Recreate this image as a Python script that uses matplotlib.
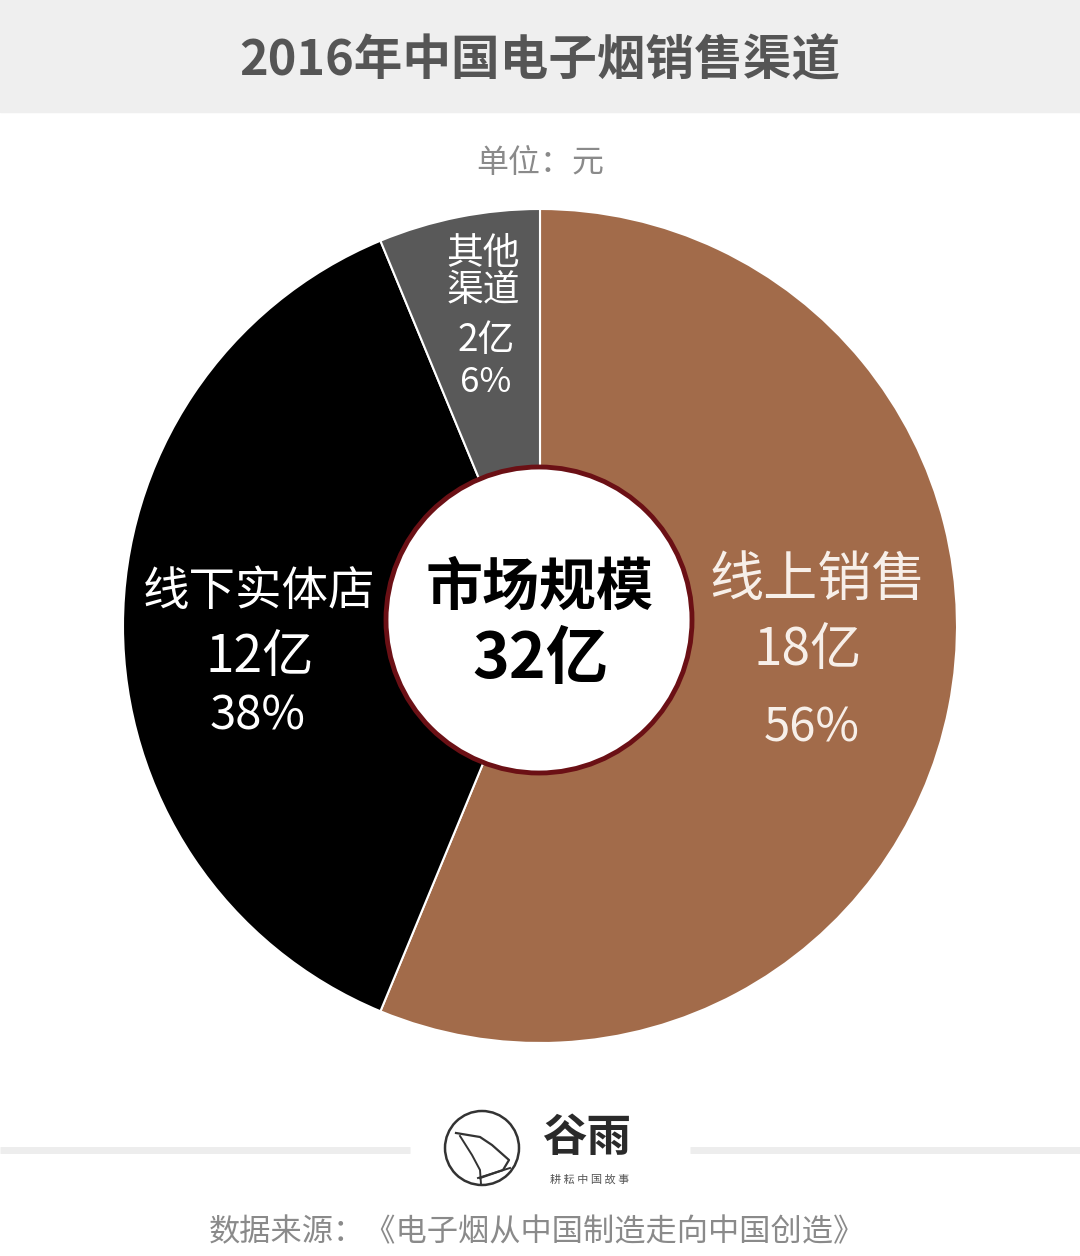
import matplotlib
matplotlib.use("Agg")
import matplotlib.pyplot as plt
from matplotlib.patches import Rectangle, Circle

plt.rcParams['font.family'] = ['Noto Sans CJK SC', 'DejaVu Sans']

title = "2016年中国电子烟销售渠道"
unit = "单位：元"
categories = ["线上销售", "线下实体店", "其他渠道"]
values = [18, 12, 2]          # 亿
percents = ["56%", "38%", "6%"]
colors = ["#A26B4A", "#000000", "#595959"]
total_label = "市场规模"
total_value = "32亿"
source = "数据来源：《电子烟从中国制造走向中国创造》"

W, H = 1080, 1256
fig = plt.figure(figsize=(W / 100, H / 100), dpi=100)
ax = fig.add_axes([0, 0, 1, 1])

def Y(y):
    return H - y

# pie
cx, cy, r = 540, Y(626), 417
ax.pie(values, colors=colors, startangle=90, counterclock=False,
       center=(cx, cy), radius=r, frame=True,
       wedgeprops=dict(edgecolor='white', linewidth=1.5))
ax.set_xlim(0, W)
ax.set_ylim(0, H)
ax.set_aspect('equal')
ax.axis('off')

# title bar
ax.add_patch(Rectangle((0, Y(112)), W, 112, color="#EFEFEF", zorder=0))
ax.text(540, Y(60), title, ha='center', va='center', fontsize=35,
        fontweight='bold', color='#555555')
ax.text(540, Y(163), unit, ha='center', va='center', fontsize=23, color='#8A8A8A')

# center circle
ax.add_patch(Circle((539, Y(620)), 153, facecolor='white', edgecolor='#6B1015',
                    linewidth=3.5, zorder=5))
ax.text(540, Y(588), total_label, ha='center', va='center', fontsize=41,
        fontweight='bold', color='black', zorder=6)
ax.text(540, Y(660), total_value, ha='center', va='center', fontsize=45,
        fontweight='bold', color='black', zorder=6)

# labels
lab_col = '#F7EFE9'
ax.text(818, Y(580), categories[0], ha='center', va='center', fontsize=39, color=lab_col)
ax.text(808, Y(650), f"{values[0]}亿", ha='center', va='center', fontsize=37, color=lab_col)
ax.text(812, Y(728), percents[0], ha='center', va='center', fontsize=34, color=lab_col)

ax.text(259, Y(592), categories[1], ha='center', va='center', fontsize=33.5, color='white')
ax.text(260, Y(657), f"{values[1]}亿", ha='center', va='center', fontsize=37, color='white')
ax.text(258, Y(716), percents[1], ha='center', va='center', fontsize=34, color='white')

ax.text(483, Y(272), categories[2][:2] + "\n" + categories[2][2:], ha='center', va='center',
        fontsize=26.5, color='white', linespacing=0.95)
ax.text(486, Y(340), f"{values[2]}亿", ha='center', va='center', fontsize=26.5, color='white')
ax.text(486, Y(383), percents[2], ha='center', va='center', fontsize=25, color='white')

# logo area
ax.plot([0, 410], [Y(1150), Y(1150)], color='#EDEDED', lw=5, solid_capstyle='butt')
ax.plot([690, W], [Y(1150), Y(1150)], color='#EDEDED', lw=5, solid_capstyle='butt')
ax.add_patch(Circle((482, Y(1148)), 37, facecolor='white', edgecolor='#333333', lw=1.8))
ax.plot([456, 480, 492, 509, 503, 480],
        [Y(1133), Y(1137), Y(1145), Y(1160), Y(1170), Y(1178)],
        color='#333333', lw=1.6)
ax.plot([460, 472, 480, 481], [Y(1136), Y(1155), Y(1170), Y(1184)], color='#333333', lw=1.4)
ax.plot([478, 510], [Y(1178), Y(1168)], color='#333333', lw=1.4)
ax.text(587, Y(1138), "谷雨", ha='center', va='center', fontsize=32,
        fontweight='bold', color='#2A2A2A')
ax.text(590, Y(1180), "耕 耘 中 国 故 事", ha='center', va='center', fontsize=8, color='#555555')

ax.text(537, Y(1232), source, ha='center', va='center', fontsize=22.5, color='#8A8A8A')

fig.savefig("out.png", dpi=100, facecolor='white')
